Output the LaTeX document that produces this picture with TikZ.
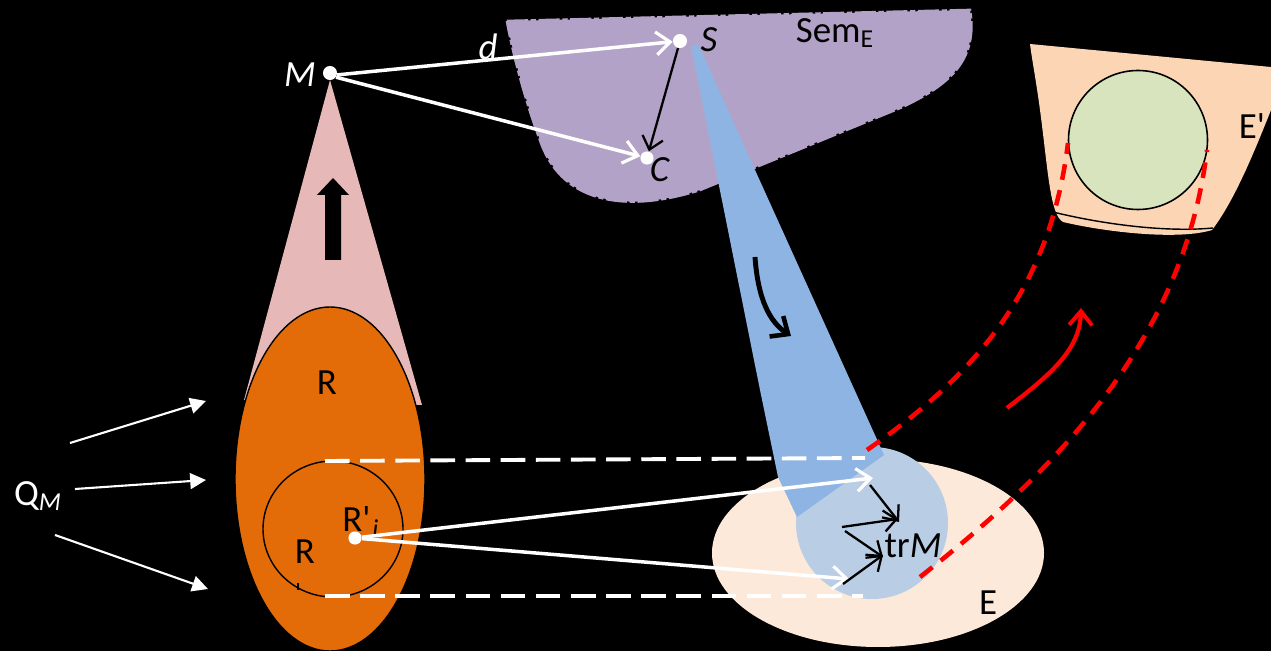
\documentclass[tikz,border=0pt]{standalone}
\usepackage{fontspec}
\setmainfont{Carlito}
\usetikzlibrary{arrows.meta}
\definecolor{pinkc}{HTML}{E6B8B7}
\definecolor{orangec}{HTML}{E36C09}
\definecolor{semc}{HTML}{B3A2C7}
\definecolor{bluec}{HTML}{8DB4E2}
\definecolor{lbluec}{HTML}{B9CDE5}
\definecolor{peachc}{HTML}{FDE9D9}
\definecolor{peachb}{HTML}{FCD5B5}
\definecolor{greenc}{HTML}{D7E4BD}
\definecolor{redc}{HTML}{FF0000}
\begin{document}
\begin{tikzpicture}[x=0.02cm,y=-0.02cm,
  lbl/.style={font=\fontsize{21}{25}\selectfont, inner sep=0pt},
  wdot/.style={circle,fill=white,inner sep=0pt,minimum size=8pt},
  wopen/.style={white,line width=2pt,-{Straight Barb[length=8pt,width=13pt,line width=1.8pt]}},
  bopen/.style={black,line width=1.3pt,-{Straight Barb[length=7pt,width=12pt,line width=1.3pt]}},
  qarrow/.style={white,line width=1.2pt,-{Triangle[length=9pt,width=9pt]}},
  wdash/.style={white,line width=2.2pt,dash pattern=on 14pt off 6pt},
  rdash/.style={redc,line width=2.6pt,dash pattern=on 9pt off 6pt}
]
\fill[black] (0,0) rectangle (1271,651);
\useasboundingbox (0,0) rectangle (1271,651);

% ---- Sem_E region
\filldraw[fill=semc,draw=semc,line width=1.5pt,dash pattern=on 12pt off 1.5pt on 3pt off 1.5pt]
  (507,21) -- (970,10) .. controls (978,60) and (950,85) .. (900,108)
  -- (700,190) .. controls (620,215) and (560,200) .. (540,140)
  .. controls (525,100) and (512,50) .. cycle;

% ---- E' region
\fill[peachb] (1030,44) -- (1271,67) -- (1271,110)
  .. controls (1255,150) and (1235,200) .. (1212,230)
  .. controls (1180,240) and (1110,233) .. (1063,222)
  .. controls (1050,215) and (1048,170) .. (1040,110)
  .. controls (1036,80) and (1032,60) .. cycle;
\draw[black,line width=0.8pt] (1053,212) .. controls (1093,222) and (1160,233) .. (1213,228);
\node[draw=black,line width=0.9pt,fill=greenc,circle,minimum size=139*0.02cm,inner sep=0pt] (G) at (1138,140) {};
\node[lbl] (Ep) at (1252,126) {E\textquotesingle};

% ---- pink cone and orange ellipse
\fill[pinkc] (330,80) -- (244,400) -- (422,405) -- cycle;
\filldraw[fill=orangec,draw=black,line width=0.8pt] (330,479) ellipse [x radius=95, y radius=172];
\fill[black] (325,260) -- (325,195) -- (317,195) -- (333,178) -- (349,195) -- (341,195) -- (341,260) -- cycle;
\draw[black,line width=0.8pt] (333,529) ellipse [x radius=70, y radius=68];
\draw[black,line width=0.8pt] (298,583) -- (298,590);
\node[lbl] (R1) at (327,383) {R};
\node[lbl] (R2) at (305,552) {R};
\node[lbl,anchor=base west] (Rp) at (342,532) {R\textquotesingle\kern1pt\textsubscript{\textit{i}}};

% ---- E ellipse and circles
\fill[peachc] (878,553) ellipse [x radius=166, y radius=94];
\fill[lbluec] (872,523) circle [radius=76];
\fill[bluec] (691,46) -- (698,44) -- (884,455) -- (797,517) -- (778,477) -- (760,390) -- cycle;
\node[lbl] (E) at (988,603) {E};
\node[lbl] (tr) at (913,546) {tr\textit{M}};

% ---- dashed white lines
\coordinate (t1) at (325,461); \coordinate (t2) at (865,458);
\coordinate (b1) at (325,596); \coordinate (b2) at (863,596);
\draw[wdash] (t1) -- (t2);
\draw[wdash] (b1) -- (b2);

% ---- red dashed curves
\coordinate (r1a) at (867,450); \coordinate (r1b) at (1068,143);
\coordinate (r2a) at (920,577); \coordinate (r2b) at (1207,150);
\draw[rdash] (r1a) .. controls (975,375) and (1050,290) .. (r1b);
\draw[rdash] (r2a) .. controls (1070,460) and (1185,330) .. (r2b);
\coordinate (ra) at (1007,408); \coordinate (rb) at (1081,308);
\draw[redc,line width=2.4pt,-{Straight Barb[length=8pt,width=13pt,line width=2.2pt]}]
  (ra) .. controls (1050,375) and (1080,350) .. (rb);

% ---- blue curved arrow
\coordinate (ba) at (755,257); \coordinate (bb) at (791,336);
\draw[black,line width=2.8pt,-{Straight Barb[length=8pt,width=14pt,line width=2.6pt]}]
  (ba) .. controls (758,300) and (770,322) .. (bb);

% ---- points M, S, C
\node[wdot] (M) at (330,73) {};
\node[wdot] (S) at (680,41) {};
\node[wdot,minimum size=7.5pt] (C) at (647,158) {};
\node[lbl,text=white] (Ml) at (300,75) {\textit{M}};
\node[lbl,text=black] (Sl) at (709,40) {\textit{S}};
\node[lbl,text=black] (Cl) at (660,170) {\textit{C}};
\node[lbl,text=white] (dl) at (488,47) {\textit{d}};
\node[lbl,text=black] (Sem) at (835,33) {Sem\textsubscript{E}};
\draw[wopen] (M.-15) -- (S);
\draw[wopen] (M.-35) -- (C);
\draw[bopen] (S) -- (C);

% ---- R'_i point and arrows
\node[wdot,minimum size=7.5pt] (Ri) at (355,538) {};
\coordinate (e1) at (873,478); \coordinate (e2) at (849,579);
\draw[wopen] (Ri) -- (e1);
\draw[wopen] (Ri) -- (e2);

% ---- black arrows in circle
\coordinate (k1a) at (870,485); \coordinate (k1b) at (899,522);
\coordinate (k2a) at (842,527); \coordinate (k2b) at (898,519);
\coordinate (k3a) at (845,531); \coordinate (k3b) at (883,557);
\coordinate (k4a) at (843,584); \coordinate (k4b) at (883,555);
\draw[bopen] (k1a) -- (k1b);
\draw[bopen] (k2a) -- (k2b);
\draw[bopen] (k3a) -- (k3b);
\draw[bopen] (k4a) -- (k4b);

% ---- Q_M
\node[lbl,text=white] (Q) at (38,496) {Q\textsubscript{\textit{M}}};
\coordinate (q1a) at (70,443); \coordinate (q1b) at (206,401);
\coordinate (q2a) at (75,489); \coordinate (q2b) at (206,480);
\coordinate (q3a) at (55,535); \coordinate (q3b) at (208,589);
\draw[qarrow] (q1a) -- (q1b);
\draw[qarrow] (q2a) -- (q2b);
\draw[qarrow] (q3a) -- (q3b);
\end{tikzpicture}
\end{document}
